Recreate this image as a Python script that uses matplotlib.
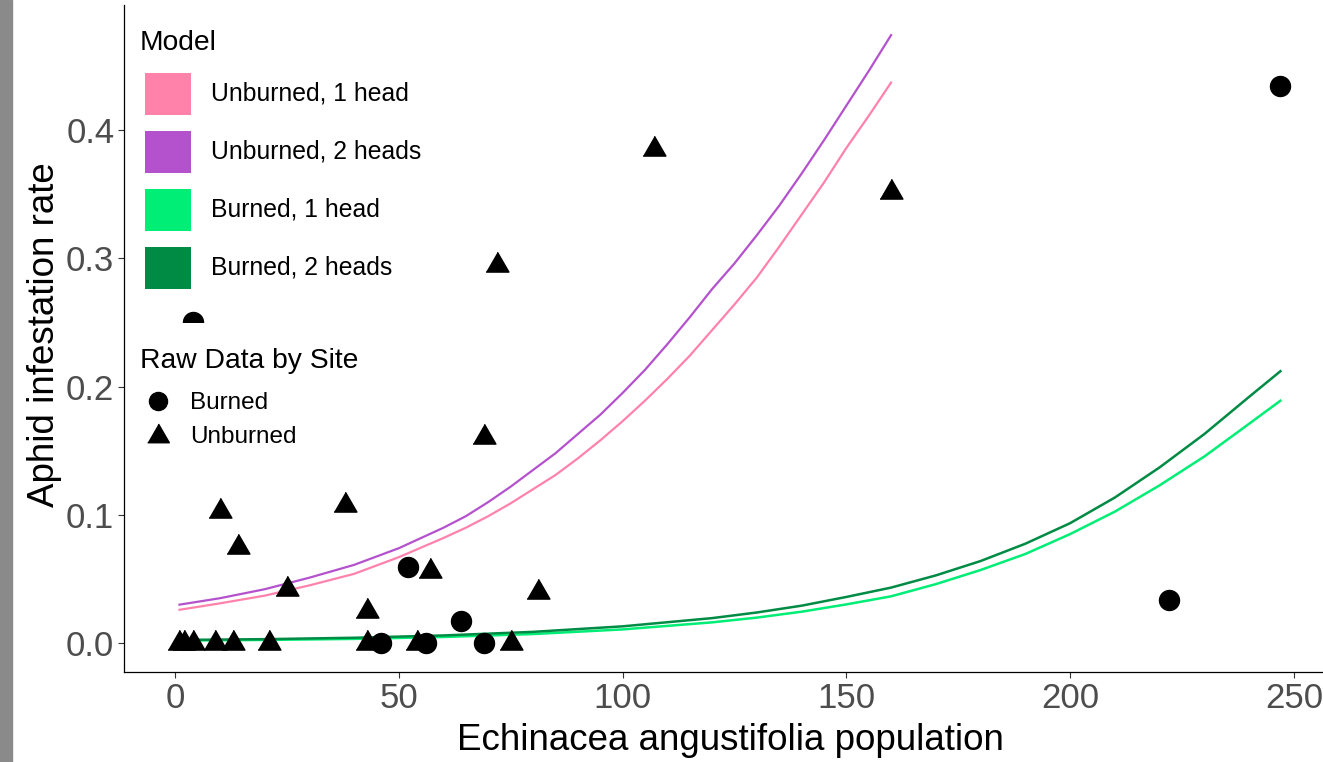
import numpy as np
import matplotlib
matplotlib.use("Agg")
import matplotlib.pyplot as plt
from matplotlib.patches import Rectangle

plt.rcParams["font.family"] = ["Liberation Sans", "DejaVu Sans"]

# model curves
unb_x = [1, 10, 20, 30, 40, 50, 60, 65, 70, 75, 80, 85, 90, 95, 100, 105, 110, 115,
         120, 125, 130, 135, 140, 145, 150, 155, 160]
unb_1head = [0.026, 0.031, 0.037, 0.045, 0.054, 0.067, 0.082, 0.090, 0.099, 0.109,
             0.120, 0.131, 0.144, 0.158, 0.173, 0.189, 0.206, 0.224, 0.244, 0.264,
             0.285, 0.309, 0.334, 0.359, 0.386, 0.411, 0.437]
unb_2heads = [0.030, 0.035, 0.042, 0.051, 0.061, 0.074, 0.090, 0.099, 0.110, 0.122,
              0.135, 0.148, 0.163, 0.178, 0.195, 0.213, 0.233, 0.254, 0.276, 0.296,
              0.318, 0.341, 0.366, 0.392, 0.419, 0.446, 0.474]
brn_x = [1, 20, 40, 60, 80, 100, 120, 130, 140, 150, 160, 170, 180, 190, 200, 210,
         220, 230, 240, 247]
brn_1head = [0.0020, 0.0025, 0.0033, 0.0048, 0.0071, 0.0107, 0.0162, 0.0199, 0.0245,
             0.0302, 0.0365, 0.0460, 0.057, 0.0695, 0.085, 0.1025, 0.123, 0.1455,
             0.171, 0.189]
brn_2heads = [0.0025, 0.0031, 0.0042, 0.0060, 0.0088, 0.0131, 0.0195, 0.0239, 0.0292,
              0.0360, 0.0433, 0.0528, 0.064, 0.0775, 0.0935, 0.1135, 0.137, 0.163,
              0.192, 0.212]

# raw data by site
burned_x = [4, 247, 222, 52, 64, 46, 56, 69]
burned_y = [0.250, 0.434, 0.034, 0.059, 0.017, 0.0, 0.0, 0.0]
unburned_x = [107, 160, 72, 69, 38, 10, 14, 25, 43, 57, 81,
              1, 2, 4, 9, 13, 21, 43, 54, 75]
unburned_y = [0.385, 0.352, 0.295, 0.161, 0.108, 0.103, 0.075, 0.042, 0.025, 0.056, 0.040,
              0, 0, 0, 0, 0, 0, 0, 0, 0]

model_labels = ["Unburned, 1 head", "Unburned, 2 heads", "Burned, 1 head", "Burned, 2 heads"]
model_colors = ["#FF82AB", "#B452CD", "#00EE76", "#008B45"]

W, H = 1323, 762
fig = plt.figure(figsize=(W / 100, H / 100), dpi=100)


def fx(x):
    return x / W


def fy(y):
    return 1 - y / H


# left grey strip of the screenshot
fig.patches.append(Rectangle((0, 0), fx(12), 1, transform=fig.transFigure,
                             color="#8a8a8a", zorder=0))

ax = fig.add_axes([fx(124), fy(672), (1335 - 124) / W, (672 - 5) / H])
ax.set_xlim(-11.4, 259.2)
ax.set_ylim(-0.0225, 0.4975)

tri = [(-1, -0.577), (1, -0.577), (0, 1.155)]

ax.plot(unb_x, unb_1head, color=model_colors[0], lw=1.6, zorder=2)
ax.plot(unb_x, unb_2heads, color=model_colors[1], lw=1.6, zorder=2)
ax.plot(brn_x, brn_1head, color=model_colors[2], lw=1.8, zorder=2)
ax.plot(brn_x, brn_2heads, color=model_colors[3], lw=1.8, zorder=2)
ax.plot(burned_x, burned_y, ls="none", marker="o", ms=14.4, color="black", zorder=3)
ax.plot(unburned_x, unburned_y, ls="none", marker=tri, ms=19, color="black", zorder=3)

for s in ["top", "right"]:
    ax.spines[s].set_visible(False)
for s in ["left", "bottom"]:
    ax.spines[s].set_linewidth(0.9)
ax.set_xticks([0, 50, 100, 150, 200, 250])
ax.set_yticks([0.0, 0.1, 0.2, 0.3, 0.4])
ax.set_yticklabels(["0.0", "0.1", "0.2", "0.3", "0.4"])
ax.tick_params(length=4, width=0.8, color="#333333", labelsize=25,
               labelcolor="#4D4D4D", pad=3)

fig.text(fx(730), fy(750), "Echinacea angustifolia population", fontsize=26.5,
         ha="center", va="baseline")
fig.text(fx(45), fy(335), "Aphid infestation rate", fontsize=26.5,
         ha="center", va="center", rotation=90)

# legend backgrounds (they hide the points underneath)
for (x0, y0, x1, y1) in [(128, 14, 440, 300), (128, 323, 380, 460)]:
    ax.add_patch(Rectangle((fx(x0), fy(y1)), fx(x1) - fx(x0), fy(y0) - fy(y1),
                           transform=fig.transFigure, facecolor="white",
                           edgecolor="none", zorder=4))

ax.text(fx(140), fy(50), "Model", fontsize=20.3, transform=fig.transFigure,
        va="baseline", zorder=5)
for i, (lab, col) in enumerate(zip(model_labels, model_colors)):
    yc = 94 + 58 * i
    ax.add_patch(Rectangle((fx(145), fy(yc + 21)), 46 / W, 42 / H,
                           transform=fig.transFigure, facecolor=col,
                           edgecolor="none", zorder=5))
    ax.text(fx(211), fy(yc), lab, fontsize=17.8, transform=fig.transFigure,
            va="center", zorder=5)

ax.text(fx(140), fy(368), "Raw Data by Site", fontsize=20.3,
        transform=fig.transFigure, va="baseline", zorder=5)
ax.plot([fx(158)], [fy(401)], marker="o", ms=13, color="black", ls="none",
        transform=fig.transFigure, clip_on=False, zorder=5)
ax.plot([fx(158)], [fy(436)], marker=tri, ms=18, color="black", ls="none",
        transform=fig.transFigure, clip_on=False, zorder=5)
ax.text(fx(190), fy(403), "Burned", fontsize=17.5, transform=fig.transFigure,
        va="center", zorder=5)
ax.text(fx(190), fy(437), "Unburned", fontsize=17.5, transform=fig.transFigure,
        va="center", zorder=5)

fig.savefig("out.png", dpi=100)
